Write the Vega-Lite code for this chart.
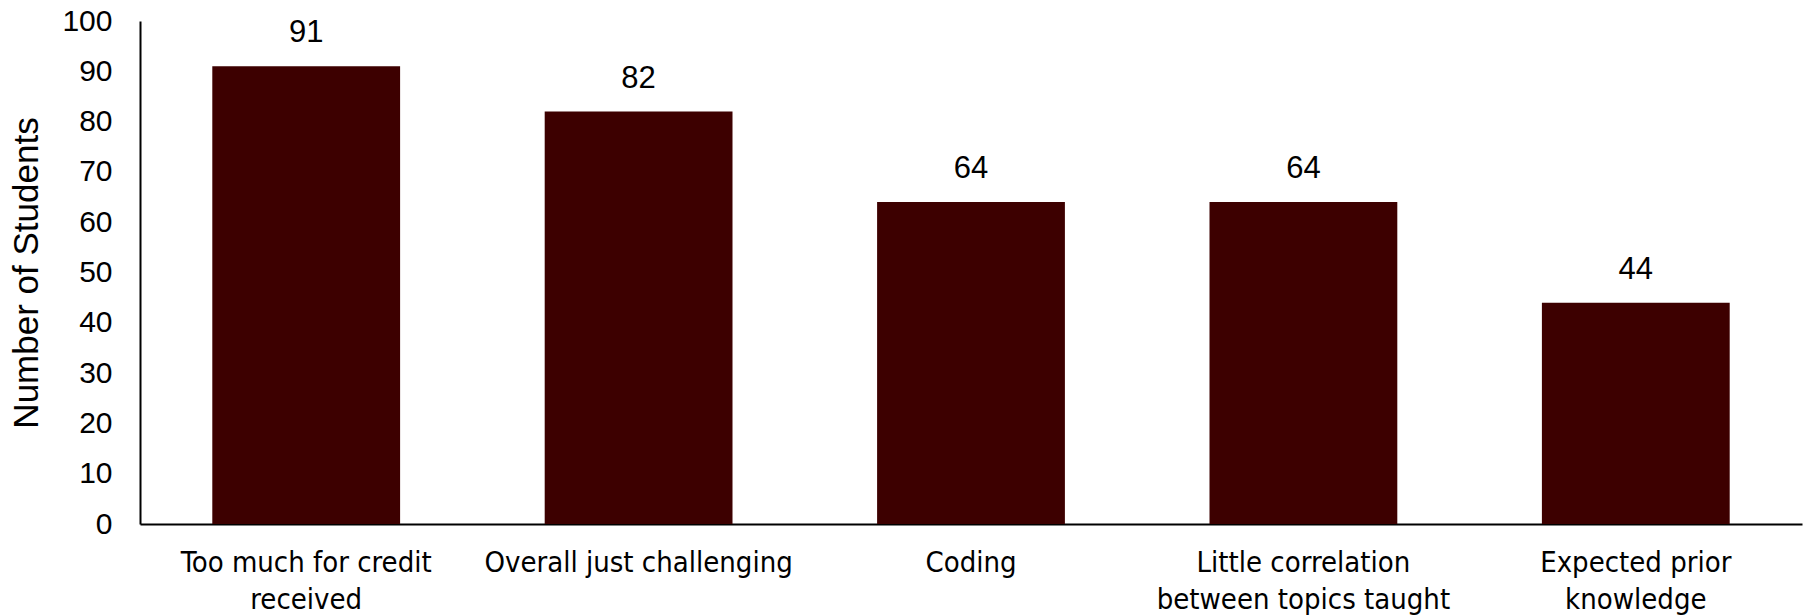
{
  "$schema": "https://vega.github.io/schema/vega-lite/v6.json",
  "width": 1662,
  "height": 503,
  "autosize": {"type": "none"},
  "padding": {"left": 140, "top": 21, "right": 3, "bottom": 92},
  "background": "white",
  "config": {"view": {"stroke": null}},
  "data": {
    "values": [
      {"reason": "Too much for credit received", "students": 91},
      {"reason": "Overall just challenging", "students": 82},
      {"reason": "Coding", "students": 64},
      {"reason": "Little correlation between topics taught", "students": 64},
      {"reason": "Expected prior knowledge", "students": 44}
    ]
  },
  "encoding": {
    "x": {
      "field": "reason",
      "type": "nominal",
      "sort": null,
      "scale": {"paddingInner": 0.435, "paddingOuter": 0.2175},
      "axis": {
        "title": null,
        "labelAngle": 0,
        "labelFont": "DejaVu Sans Condensed",
        "labelFontSize": 29,
        "labelColor": "#000000",
        "labelPadding": 24,
        "labelLineHeight": 37,
        "labelBaseline": "top",
        "labelLimit": 0,
        "ticks": false,
        "domainColor": "#000000",
        "domainWidth": 2,
        "labelExpr": "datum.label == 'Too much for credit received' ? ['Too much for credit', 'received'] : datum.label == 'Little correlation between topics taught' ? ['Little correlation', 'between topics taught'] : datum.label == 'Expected prior knowledge' ? ['Expected prior', 'knowledge'] : datum.label"
      }
    },
    "y": {
      "field": "students",
      "type": "quantitative",
      "scale": {"domain": [0, 100], "nice": false},
      "axis": {
        "title": "Number of Students",
        "titleFont": "Liberation Sans",
        "titleFontSize": 35,
        "titleFontWeight": "normal",
        "titleColor": "#000000",
        "titlePadding": 17,
        "values": [0, 10, 20, 30, 40, 50, 60, 70, 80, 90, 100],
        "labelFont": "Liberation Sans",
        "labelFontSize": 30,
        "labelColor": "#000000",
        "labelPadding": 28,
        "ticks": false,
        "grid": false,
        "domainColor": "#000000",
        "domainWidth": 2
      }
    }
  },
  "layer": [
    {"mark": {"type": "bar", "color": "#3d0000"}},
    {
      "mark": {"type": "text", "baseline": "alphabetic", "dy": -24, "font": "Liberation Sans", "fontSize": 31, "color": "#000000"},
      "encoding": {"text": {"field": "students", "type": "quantitative"}}
    }
  ]
}
